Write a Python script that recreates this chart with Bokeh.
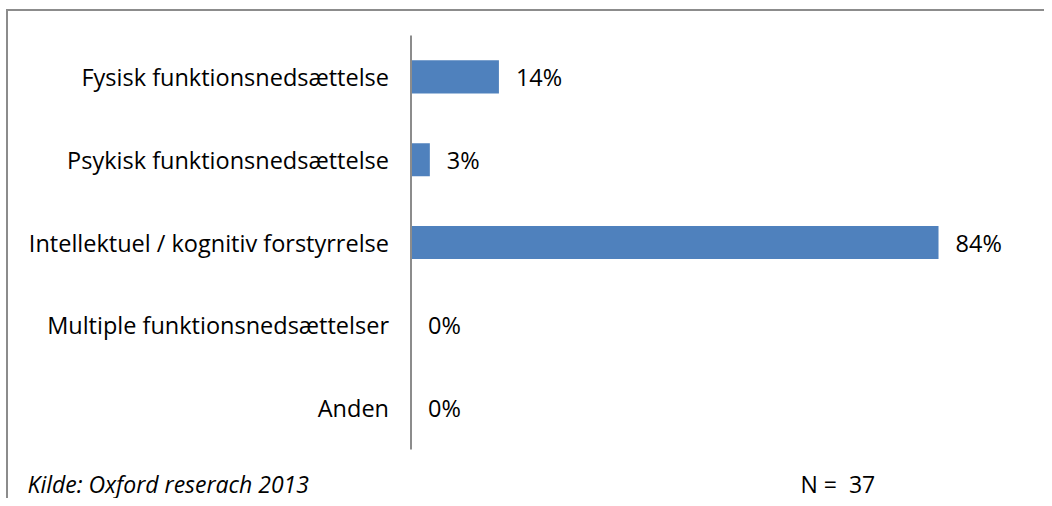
from bokeh.plotting import figure
from bokeh.models import ColumnDataSource, LabelSet, Label, Range1d
from bokeh.core.properties import value
from bokeh.embed import file_html
from bokeh.resources import INLINE

categories = [
    "Fysisk funktionsnedsættelse",
    "Psykisk funktionsnedsættelse",
    "Intellektuel / kognitiv forstyrrelse",
    "Multiple funktionsnedsættelser",
    "Anden",
]
values = [14, 3, 84, 0, 0]
source_note = "Kilde: Oxford reserach 2013"
n_note = "N =\u00a0 37"

FONT = "Open Sans"
FS = "23.5px"
FS_FOOT = "23px"
W, H = 1044, 498
AXIS_PX = 410.5      # pixel position of the value axis
PX_PER_PCT = 6.28    # pixels per percentage point
FRAME_TOP, FRAME_BOTTOM = 35, 449

n = len(categories)
idx = list(range(n))
step = (FRAME_BOTTOM - FRAME_TOP) / n

src = ColumnDataSource(dict(
    y=idx,
    v=values,
    cat=categories,
    lbl=[f"{v}%" for v in values],
    zero=[0] * n,
))

p = figure(
    width=W, height=H,
    output_backend="svg", toolbar_location=None,
    x_range=Range1d(-AXIS_PX / PX_PER_PCT, (W - AXIS_PX) / PX_PER_PCT),
    y_range=Range1d(n - 0.5 + (H - FRAME_BOTTOM) / step, -0.5 - FRAME_TOP / step),
    min_border=0,
)
p.styles = {
    "background": "linear-gradient(#8c8c8c,#8c8c8c) 6px 9px / 2px 100% no-repeat, "
                  "linear-gradient(#8c8c8c,#8c8c8c) 6px 9px / 100% 2px no-repeat"
}
p.border_fill_color = None
p.background_fill_color = None
p.outline_line_color = None
p.grid.visible = False
p.axis.visible = False

p.hbar(y="y", right="v", left=0, height=0.4, source=src,
       fill_color="#4f81bd", line_color=None)

# value axis line
p.segment(x0=[0], x1=[0], y0=[-0.5], y1=[n - 0.5], line_color="#8c8c8c", line_width=2)

# category labels
p.add_layout(LabelSet(x="zero", y="y", text="cat", source=src,
                      x_offset=-22, text_align="right", text_baseline="middle",
                      text_font=value(FONT), text_font_size=FS, text_color="#000000"))

# value labels
p.add_layout(LabelSet(x="v", y="y", text="lbl", source=src,
                      x_offset=17, text_baseline="middle",
                      text_font=value(FONT), text_font_size=FS, text_color="#000000"))

y_foot = -0.5 + (483 - FRAME_TOP) / step
p.add_layout(Label(x=(27 - AXIS_PX) / PX_PER_PCT, y=y_foot, text=source_note,
                   text_baseline="middle", text_font=FONT, text_font_size=FS_FOOT,
                   text_font_style="italic", text_color="#000000"))
p.add_layout(Label(x=(800 - AXIS_PX) / PX_PER_PCT, y=y_foot, text=n_note,
                   text_baseline="middle", text_font=FONT, text_font_size=FS_FOOT,
                   text_color="#000000"))

open("out.html", "w").write(file_html(p, INLINE))
